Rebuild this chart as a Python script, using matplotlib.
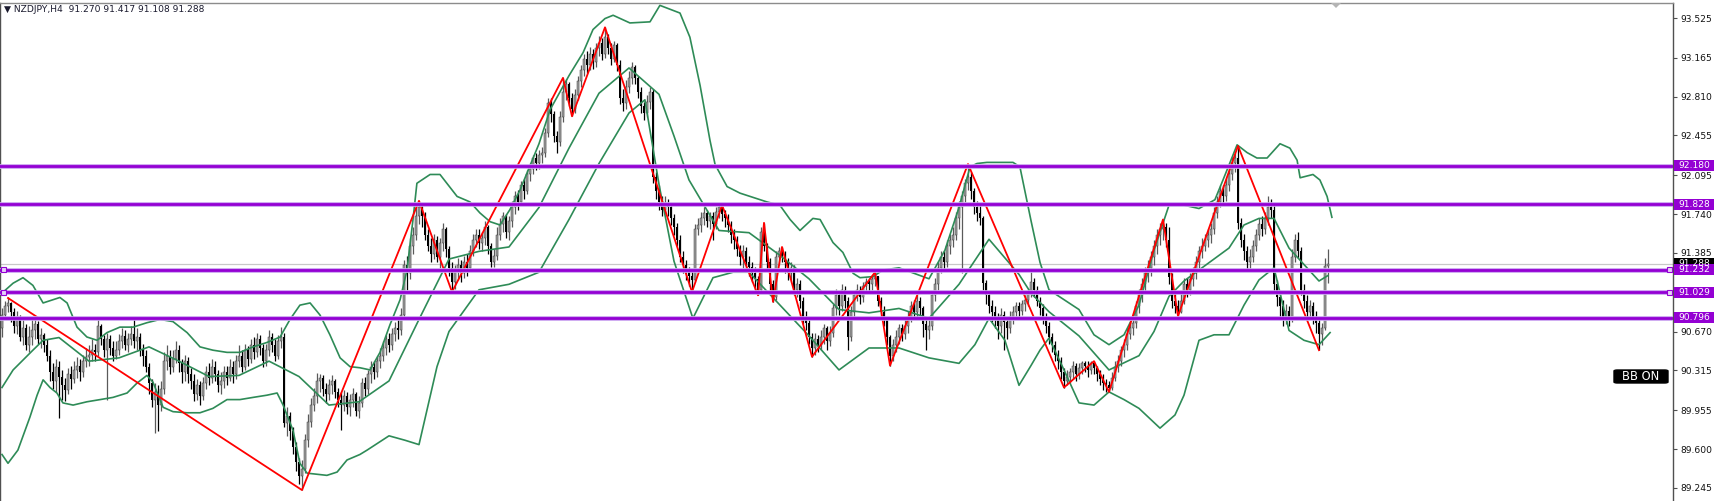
import numpy as np
import matplotlib
matplotlib.use("Agg")
import matplotlib.pyplot as plt
from matplotlib.patches import Rectangle, FancyBboxPatch, Polygon

W, H = 1717, 501

# ---- data (H4 candles, open = previous close) ----
first_open = 90.70
closes = [
    90.82, 90.90, 90.93, 90.85, 90.72, 90.80, 90.62, 90.70, 90.55, 90.62,
    90.68, 90.74, 90.60, 90.64, 90.55, 90.45, 90.30, 90.22, 90.35, 90.26,
    90.18, 90.14, 90.28, 90.24, 90.32, 90.36, 90.30, 90.40, 90.44, 90.46,
    90.50, 90.48, 90.72, 90.60, 90.50, 90.60, 90.52, 90.45, 90.50, 90.58,
    90.63, 90.55, 90.60, 90.65, 90.58, 90.62, 90.50, 90.45, 90.35, 90.20,
    90.05, 90.12, 90.00, 90.15, 90.40, 90.45, 90.35, 90.42, 90.50, 90.38,
    90.30, 90.40, 90.28, 90.22, 90.10, 90.18, 90.08, 90.20, 90.30, 90.25,
    90.35, 90.28, 90.18, 90.22, 90.30, 90.25, 90.35, 90.28, 90.40, 90.45,
    90.35, 90.50, 90.42, 90.55, 90.48, 90.60, 90.52, 90.40, 90.50, 90.62,
    90.55, 90.45, 90.58, 90.62, 89.84, 89.90, 89.76, 89.62, 89.48, 89.35,
    89.42, 89.68, 89.85, 90.00, 90.08, 90.22, 90.25, 90.15, 90.10, 90.18,
    90.22, 90.12, 90.05, 90.00, 90.08, 89.98, 90.05, 90.10, 89.95, 90.02,
    90.20, 90.15, 90.28, 90.35, 90.30, 90.40, 90.45, 90.52, 90.60, 90.55,
    90.65, 90.70, 90.68, 90.82, 91.28, 91.20, 91.45, 91.55, 91.72, 91.80,
    91.72, 91.55, 91.45, 91.38, 91.50, 91.35, 91.48, 91.60, 91.42, 91.25,
    91.12, 91.22, 91.28, 91.20, 91.30, 91.25, 91.40, 91.50, 91.55, 91.48,
    91.52, 91.62, 91.45, 91.30, 91.36, 91.55, 91.65, 91.72, 91.58, 91.68,
    91.80, 91.90, 91.85, 92.00, 91.95, 92.10, 92.15, 92.25, 92.20, 92.28,
    92.30, 92.48, 92.75, 92.65, 92.45, 92.40, 92.62, 92.85, 92.92, 92.80,
    92.70, 92.82, 92.95, 93.05, 93.15, 93.10, 93.20, 93.12, 93.25, 93.30,
    93.20, 93.35, 93.25, 93.15, 93.28, 93.10, 92.80, 92.75, 92.90, 92.98,
    93.08, 92.98, 92.85, 92.72, 92.66, 92.76, 92.85, 92.08, 91.95, 91.85,
    91.78, 91.84, 91.80, 91.70, 91.62, 91.50, 91.35, 91.28, 91.22, 91.18,
    91.14, 91.60, 91.64, 91.70, 91.75, 91.68, 91.72, 91.65, 91.76, 91.80,
    91.74, 91.70, 91.64, 91.55, 91.50, 91.42, 91.35, 91.40, 91.30, 91.26,
    91.20, 91.15, 91.05, 91.58, 91.45, 91.30, 91.10, 90.98, 91.35, 91.40,
    91.36, 91.30, 91.20, 91.25, 91.05, 91.10, 90.95, 90.80, 90.75, 90.62,
    90.52, 90.60, 90.55, 90.62, 90.70, 90.58, 90.66, 90.88, 91.00, 90.90,
    91.05, 90.95, 90.62, 90.85, 91.00, 91.05, 90.98, 91.08, 91.12, 91.10,
    91.15, 91.18, 90.95, 90.85, 90.78, 90.62, 90.45, 90.55, 90.62, 90.70,
    90.65, 90.72, 90.80, 90.90, 90.85, 90.95, 90.88, 90.74, 90.68, 90.72,
    91.00, 91.10, 91.25, 91.35, 91.30, 91.45, 91.50, 91.55, 91.70, 91.80,
    91.90, 92.02, 92.08, 91.95, 91.80, 91.75, 91.70, 91.11, 91.00, 90.90,
    90.85, 90.78, 90.72, 90.82, 90.76, 90.70, 90.80, 90.85, 90.90, 90.86,
    90.92, 90.96, 91.02, 91.12, 91.05, 90.95, 90.88, 90.80, 90.72, 90.62,
    90.55, 90.46, 90.40, 90.30, 90.22, 90.26, 90.30, 90.36, 90.28, 90.34,
    90.38, 90.36, 90.32, 90.38, 90.34, 90.28, 90.24, 90.20, 90.18, 90.16,
    90.25, 90.35, 90.40, 90.50, 90.55, 90.65, 90.70, 90.75, 90.90, 91.00,
    91.10, 91.20, 91.25, 91.35, 91.45, 91.55, 91.60, 91.62, 91.50, 91.17,
    90.95, 90.90, 90.85, 90.95, 91.10, 91.05, 91.15, 91.20, 91.30, 91.40,
    91.45, 91.50, 91.55, 91.60, 91.75, 91.85, 91.95, 91.90, 92.00, 92.10,
    92.20, 92.25, 91.66, 91.50, 91.40, 91.30, 91.35, 91.45, 91.55, 91.65,
    91.60, 91.70, 91.80, 91.78, 91.10, 90.98, 90.90, 90.80, 90.86, 90.78,
    91.35, 91.50, 91.40, 91.05, 90.95, 90.85, 90.90, 90.80, 90.75, 90.65,
    90.70, 91.27, 91.288,
]
highs = [
    90.88, 90.95, 90.98, 90.94, 90.88, 90.86, 90.82, 90.78, 90.74, 90.72,
    90.78, 90.80, 90.77, 90.70, 90.66, 90.60, 90.50, 90.38, 90.42, 90.40,
    90.32, 90.25, 90.34, 90.36, 90.40, 90.44, 90.42, 90.46, 90.52, 90.55,
    90.60, 90.56, 90.79, 90.74, 90.64, 90.66, 90.64, 90.58, 90.58, 90.65,
    90.70, 90.68, 90.66, 90.72, 90.80, 90.70, 90.66, 90.56, 90.50, 90.38,
    90.24, 90.20, 90.18, 90.22, 90.48, 90.55, 90.50, 90.50, 90.58, 90.55,
    90.42, 90.46, 90.44, 90.34, 90.28, 90.24, 90.22, 90.26, 90.36, 90.38,
    90.42, 90.40, 90.32, 90.30, 90.36, 90.36, 90.42, 90.40, 90.46, 90.55,
    90.50, 90.56, 90.54, 90.60, 90.62, 90.66, 90.64, 90.56, 90.56, 90.68,
    90.66, 90.60, 90.64, 90.71, 90.66, 89.98, 89.94, 89.80, 89.66, 89.52,
    89.50, 89.74, 89.92, 90.06, 90.16, 90.29, 90.28, 90.27, 90.20, 90.24,
    90.27, 90.24, 90.16, 90.12, 90.14, 90.12, 90.10, 90.16, 90.12, 90.08,
    90.25, 90.26, 90.32, 90.40, 90.40, 90.45, 90.52, 90.58, 90.64, 90.66,
    90.70, 90.76, 90.78, 90.88, 91.32, 91.36, 91.52, 91.62, 91.80, 91.86,
    91.84, 91.76, 91.60, 91.52, 91.56, 91.54, 91.52, 91.66, 91.62, 91.45,
    91.30, 91.28, 91.34, 91.32, 91.36, 91.38, 91.46, 91.56, 91.60, 91.60,
    91.58, 91.68, 91.64, 91.48, 91.42, 91.62, 91.70, 91.76, 91.74, 91.72,
    91.86, 91.95, 91.96, 92.04, 92.06, 92.14, 92.20, 92.28, 92.30, 92.32,
    92.35, 92.52, 92.80, 92.80, 92.68, 92.50, 92.68, 92.98, 92.97, 92.94,
    92.84, 92.88, 93.00, 93.10, 93.20, 93.22, 93.26, 93.24, 93.30, 93.36,
    93.34, 93.44, 93.38, 93.30, 93.32, 93.30, 93.14, 92.88, 92.96, 93.04,
    93.12, 93.10, 93.00, 92.90, 92.76, 92.82, 92.90, 92.88, 92.12, 92.00,
    91.90, 91.90, 91.88, 91.84, 91.74, 91.66, 91.55, 91.40, 91.32, 91.26,
    91.22, 91.65, 91.70, 91.76, 91.80, 91.78, 91.76, 91.76, 91.80, 91.82,
    91.82, 91.78, 91.74, 91.68, 91.60, 91.54, 91.46, 91.46, 91.44, 91.36,
    91.30, 91.26, 91.18, 91.62, 91.66, 91.48, 91.34, 91.14, 91.40, 91.44,
    91.44, 91.40, 91.34, 91.30, 91.28, 91.16, 91.14, 90.98, 90.86, 90.78,
    90.66, 90.66, 90.64, 90.68, 90.74, 90.72, 90.72, 90.92, 91.06, 91.04,
    91.10, 91.08, 90.98, 90.90, 91.04, 91.10, 91.08, 91.12, 91.16, 91.16,
    91.18, 91.21, 91.18, 90.98, 90.90, 90.80, 90.64, 90.60, 90.68, 90.74,
    90.74, 90.78, 90.86, 90.95, 90.96, 91.00, 90.98, 90.90, 90.78, 90.78,
    91.04, 91.16, 91.30, 91.40, 91.40, 91.50, 91.56, 91.62, 91.76, 91.86,
    91.95, 92.06, 92.195, 92.12, 91.98, 91.86, 91.82, 91.72, 91.14, 91.04,
    90.96, 90.90, 90.84, 90.88, 90.86, 90.80, 90.86, 90.90, 90.94, 90.94,
    90.96, 91.00, 91.06, 91.23, 91.16, 91.08, 90.98, 90.92, 90.84, 90.76,
    90.66, 90.58, 90.50, 90.44, 90.34, 90.32, 90.34, 90.40, 90.38, 90.38,
    90.40, 90.40, 90.40, 90.40, 90.40, 90.36, 90.32, 90.28, 90.24, 90.22,
    90.30, 90.40, 90.46, 90.54, 90.60, 90.70, 90.76, 90.82, 90.95, 91.06,
    91.16, 91.26, 91.32, 91.40, 91.50, 91.60, 91.66, 91.69, 91.66, 91.62,
    91.20, 91.02, 90.96, 91.02, 91.16, 91.16, 91.20, 91.26, 91.36, 91.45,
    91.52, 91.56, 91.60, 91.66, 91.80, 91.90, 92.00, 92.00, 92.06, 92.16,
    92.26, 92.30, 92.36, 91.70, 91.56, 91.45, 91.42, 91.50, 91.60, 91.70,
    91.72, 91.76, 91.90, 91.88, 91.82, 91.14, 91.04, 90.96, 90.92, 90.90,
    91.42, 91.56, 91.58, 91.44, 91.10, 91.00, 90.96, 90.94, 90.86, 90.80,
    90.75, 91.34, 91.417,
]
lows = [
    90.62, 90.78, 90.85, 90.76, 90.66, 90.65, 90.58, 90.55, 90.50, 90.48,
    90.55, 90.60, 90.56, 90.52, 90.48, 90.40, 90.22, 90.15, 90.12, 89.88,
    90.05, 90.04, 90.10, 90.15, 90.20, 90.25, 90.22, 90.26, 90.35, 90.36,
    90.40, 90.40, 90.45, 90.55, 90.44, 90.05, 90.46, 90.40, 90.42, 90.46,
    90.52, 90.50, 90.48, 90.55, 90.52, 90.50, 90.45, 90.36, 90.30, 90.10,
    89.98, 89.75, 89.76, 89.95, 90.10, 90.32, 90.28, 90.30, 90.38, 90.30,
    90.20, 90.22, 90.20, 90.15, 90.04, 90.05, 90.00, 90.05, 90.15, 90.18,
    90.20, 90.22, 90.12, 90.10, 90.16, 90.18, 90.22, 90.20, 90.24, 90.35,
    90.30, 90.32, 90.36, 90.38, 90.42, 90.44, 90.46, 90.35, 90.36, 90.45,
    90.48, 90.40, 90.42, 90.52, 89.80, 89.72, 89.68, 89.55, 89.40, 89.28,
    89.23, 89.38, 89.62, 89.80, 89.95, 90.02, 90.12, 90.08, 90.02, 90.05,
    90.10, 90.06, 89.98, 89.77, 89.95, 89.92, 89.90, 89.98, 89.90, 89.88,
    89.98, 90.08, 90.10, 90.20, 90.24, 90.26, 90.34, 90.40, 90.46, 90.48,
    90.50, 90.58, 90.60, 90.64, 90.80, 91.05, 91.15, 91.38, 91.50, 91.65,
    91.62, 91.50, 91.40, 91.30, 91.33, 91.30, 91.25, 91.40, 91.35, 91.18,
    91.03, 91.06, 91.14, 91.12, 91.16, 91.18, 91.22, 91.36, 91.44, 91.42,
    91.40, 91.46, 91.38, 91.26, 91.26, 91.32, 91.50, 91.58, 91.52, 91.50,
    91.62, 91.74, 91.78, 91.82, 91.88, 91.92, 92.04, 92.10, 92.14, 92.15,
    92.20, 92.26, 92.44, 92.58, 92.40, 92.30, 92.36, 92.58, 92.78, 92.72,
    92.63, 92.66, 92.78, 92.90, 93.00, 93.02, 93.05, 93.06, 93.08, 93.18,
    93.14, 93.16, 93.20, 93.10, 93.12, 93.04, 92.74, 92.68, 92.70, 92.84,
    92.92, 92.92, 92.80, 92.66, 92.60, 92.62, 92.70, 92.02, 91.88, 91.78,
    91.72, 91.74, 91.72, 91.64, 91.55, 91.45, 91.30, 91.20, 91.14, 91.08,
    91.03, 91.12, 91.55, 91.58, 91.64, 91.62, 91.60, 91.50, 91.60, 91.70,
    91.68, 91.62, 91.58, 91.48, 91.42, 91.36, 91.28, 91.25, 91.24, 91.18,
    91.12, 91.05, 91.00, 91.02, 91.40, 91.24, 91.05, 90.94, 90.96, 91.28,
    91.30, 91.20, 91.14, 91.12, 91.00, 90.98, 90.88, 90.74, 90.68, 90.56,
    90.44, 90.46, 90.48, 90.50, 90.56, 90.50, 90.54, 90.62, 90.82, 90.82,
    90.86, 90.88, 90.50, 90.58, 90.80, 90.95, 90.92, 90.94, 91.02, 91.02,
    91.05, 91.08, 90.90, 90.78, 90.72, 90.55, 90.36, 90.40, 90.48, 90.56,
    90.58, 90.60, 90.66, 90.76, 90.78, 90.80, 90.82, 90.62, 90.50, 90.60,
    90.68, 90.95, 91.05, 91.20, 91.22, 91.26, 91.38, 91.44, 91.50, 91.60,
    91.20, 91.85, 91.96, 91.88, 91.74, 91.68, 91.64, 91.05, 90.92, 90.84,
    90.76, 90.70, 90.60, 90.66, 90.50, 90.60, 90.66, 90.74, 90.78, 90.80,
    90.82, 90.86, 90.90, 90.98, 90.98, 90.90, 90.82, 90.74, 90.66, 90.56,
    90.48, 90.40, 90.33, 90.24, 90.16, 90.18, 90.20, 90.24, 90.22, 90.24,
    90.28, 90.30, 90.26, 90.28, 90.28, 90.22, 90.18, 90.14, 90.12, 90.12,
    90.14, 90.22, 90.30, 90.36, 90.44, 90.50, 90.60, 90.64, 90.70, 90.84,
    90.94, 91.04, 91.12, 91.18, 91.28, 91.38, 91.46, 91.50, 91.44, 91.10,
    90.88, 90.84, 90.81, 90.84, 90.92, 90.98, 91.00, 91.08, 91.15, 91.25,
    91.34, 91.40, 91.44, 91.48, 91.56, 91.70, 91.80, 91.82, 91.86, 91.95,
    92.05, 92.12, 91.60, 91.44, 91.32, 91.22, 91.24, 91.30, 91.40, 91.50,
    91.54, 91.56, 91.64, 91.70, 91.02, 90.90, 90.80, 90.72, 90.74, 90.72,
    90.76, 91.30, 91.34, 91.00, 90.88, 90.80, 90.78, 90.74, 90.66, 90.50,
    90.55, 90.68, 91.108,
]

# zigzag pivots (bar index, price)
zz_idx = [2, 100, 139, 150, 187, 190, 201, 230, 240, 252, 254, 257, 260, 270,
          291, 296, 322, 354, 364, 369, 387, 392, 412, 439]
zz_px = [90.975, 89.226, 91.86, 91.03, 92.98, 92.63, 93.44, 91.03, 91.82, 91.00,
         91.66, 90.94, 91.44, 90.44, 91.21, 90.36, 92.195, 90.16, 90.40, 90.12,
         91.69, 90.81, 92.36, 90.50]

# bollinger band lines as traced (bar index, price)
bbu_idx = [0, 3.7, 7, 10.3, 13.7, 19.3, 21.7, 25, 28.3, 31.7, 35, 39.3, 43.7, 48.3,
           52.7, 57, 61.7, 66, 70.3, 75, 79.3, 83.7, 88.3, 92.7, 96, 99.3, 102.7,
           106, 109.3, 112.7, 116, 119.3, 122.7, 126, 129.3, 132.7, 135, 137, 138.3,
           142.7, 146, 151.7, 156, 159.3, 162.7, 166, 169.3, 172.7, 179, 182.7, 189,
           193.7, 197, 201, 203.7, 209.3, 216, 219.3, 226, 229.3, 232.7, 236, 237.7,
           241.7, 246, 255, 259.3, 262.7, 266, 270.3, 272.7, 277, 280.3, 283.7, 286,
           290.3, 293.7, 299, 309, 314.3, 319, 322.7, 325, 328.3, 332.7, 337, 339.3,
           343, 346, 349, 354, 359, 364, 369, 374, 379, 384, 389, 394, 399, 404.3,
           407, 411.7, 415, 418.3, 421.7, 426, 429.3, 431.7, 432.7, 437, 439.3,
           441.7, 443.3]
bbu = [91.02, 91.11, 91.16, 91.09, 90.93, 90.98, 90.93, 90.71, 90.62, 90.59, 90.66,
       90.71, 90.71, 90.75, 90.78, 90.76, 90.66, 90.53, 90.50, 90.48, 90.48, 90.53,
       90.57, 90.62, 90.78, 90.91, 90.93, 90.82, 90.64, 90.43, 90.35, 90.34, 90.32,
       90.48, 90.73, 90.96, 91.23, 91.69, 92.02, 92.10, 92.10, 91.90, 91.85, 91.75,
       91.67, 91.64, 91.78, 91.96, 92.38, 92.69, 93.00, 93.21, 93.42, 93.52, 93.55,
       93.48, 93.49, 93.64, 93.57, 93.35, 92.91, 92.41, 92.19, 91.99, 91.93, 91.85,
       91.82, 91.69, 91.59, 91.70, 91.69, 91.48, 91.39, 91.20, 91.16, 91.17, 91.23,
       91.25, 91.15, 91.41, 91.80, 92.17, 92.20, 92.21, 92.21, 92.21, 92.17, 91.68,
       91.30, 91.05, 90.96, 90.87, 90.64, 90.55, 90.64, 90.91, 91.41, 91.82, 91.82,
       91.79, 91.87, 92.05, 92.37, 92.30, 92.25, 92.25, 92.38, 92.34, 92.23, 92.07,
       92.10, 92.05, 91.90, 91.71]
bbm_idx = [0, 3.7, 10.3, 13.7, 19, 29, 39, 49, 59, 69, 79, 89, 99, 109, 119, 129,
           139, 149, 159, 169, 179, 189, 199, 209, 219, 224, 229, 239, 249, 259, 269,
           279, 289, 299, 309, 319, 329, 339, 343, 349, 359, 369, 379, 384, 389, 394,
           399, 409, 414, 419, 424, 429, 439, 442]
bbm = [90.16, 90.32, 90.50, 90.59, 90.615, 90.40, 90.43, 90.53, 90.40, 90.26, 90.27,
       90.40, 90.26, 90.00, 90.03, 90.22, 90.78, 91.33, 91.40, 91.44, 91.80, 92.34,
       92.84, 93.07, 92.83, 92.45, 92.05, 91.59, 91.57, 91.37, 91.15, 90.87, 90.84,
       90.88, 90.79, 91.10, 91.51, 91.19, 91.02, 90.85, 90.63, 90.32, 90.45, 90.67,
       90.99, 91.13, 91.23, 91.43, 91.64, 91.70, 91.70, 91.43, 91.13, 91.18]
bbl_idx = [0, 2, 5.3, 9.3, 11.7, 13.7, 16, 18.3, 20.3, 23.7, 28.3, 32.7, 37, 41.7,
           45, 48.3, 50.3, 53.7, 57, 61.7, 66, 70.3, 75, 79.3, 83.7, 88.3, 91.7, 93.7,
           97, 99.3, 101.7, 108.3, 111.7, 115, 119.3, 121.7, 129, 134.3, 139, 145,
           149, 159, 169, 179, 189, 199, 209, 214.3, 219, 224, 230.3, 237, 243.7, 249,
           259, 269, 279, 289, 299, 309, 319, 324.3, 329, 334.3, 339, 343, 346, 349,
           354, 359, 364, 369, 374, 379, 386, 391, 394, 399, 404, 409, 414, 419, 424,
           429, 434, 439, 442.7]
bbl = [89.55, 89.47, 89.59, 89.89, 90.09, 90.23, 90.16, 90.11, 90.02, 90.00, 90.03,
       90.05, 90.07, 90.11, 90.20, 90.27, 90.21, 89.98, 89.94, 89.93, 89.93, 89.97,
       90.05, 90.05, 90.07, 90.09, 90.11, 90.00, 89.77, 89.47, 89.38, 89.36, 89.39,
       89.50, 89.55, 89.59, 89.72, 89.68, 89.64, 90.35, 90.67, 91.05, 91.10, 91.21,
       91.69, 92.20, 92.66, 92.78, 92.01, 91.31, 90.79, 91.16, 91.21, 91.21, 90.92,
       90.63, 90.32, 90.52, 90.52, 90.43, 90.38, 90.55, 90.79, 90.59, 90.18, 90.36,
       90.50, 90.61, 90.32, 90.02, 90.00, 90.12, 90.05, 89.97, 89.79, 89.91, 90.09,
       90.59, 90.64, 90.64, 90.91, 91.14, 91.25, 90.68, 90.59, 90.55, 90.66]

levels = [92.180, 91.828, 91.232, 91.029, 90.796]
level_labels = ["92.180", "91.828", "91.232", "91.029", "90.796"]
bid = 91.288
ticks = [93.525, 93.165, 92.810, 92.455, 92.095, 91.740, 91.385, 90.670, 90.315,
         89.955, 89.600, 89.245]
tick_labels = ["93.525", "93.165", "92.810", "92.455", "92.095", "91.740", "91.385",
               "90.670", "90.315", "89.955", "89.600", "89.245"]
title = "▼ NZDJPY,H4  91.270 91.417 91.108 91.288"

# ---- pixel <-> price frame ----
y0_px, y_top_px = 18.0, 3.0
px_per_unit = 109.81
p_top = 93.525 + (y0_px - y_top_px) / px_per_unit
p_bot = 93.525 - (H - y0_px) / px_per_unit
ax_right = 1673


def fy(price):
    # figure fraction for a price
    return 1 - (y0_px + (93.525 - price) * px_per_unit) / H


fig = plt.figure(figsize=(W / 100, H / 100), dpi=100)
fig.patch.set_facecolor("white")
ax = fig.add_axes([0, 0, ax_right / W, (H - y_top_px) / H])
ax.set_xlim(-2 / 3, (ax_right - 2) / 3)
ax.set_ylim(p_bot, p_top)

n = len(closes)
x = np.arange(n)
c = np.array(closes)
o = np.array([first_open] + closes[:-1])
hi = np.array(highs)
lo = np.array(lows)
up = c >= o
top = np.maximum(np.maximum(o, c), hi)
bot = np.minimum(np.minimum(o, c), lo)

ax.vlines(x[up], bot[up], top[up], color="#5a5a5a", lw=0.9, zorder=2)
ax.vlines(x[~up], bot[~up], top[~up], color="black", lw=0.9, zorder=2)
body_lo = np.minimum(o, c)
body_h = np.maximum(np.abs(c - o), 0.012)
ax.bar(x[up], body_h[up], bottom=body_lo[up], width=0.72, color="#a0a0a0",
       edgecolor="#3c3c3c", linewidth=0.35, zorder=3)
ax.bar(x[~up], body_h[~up], bottom=body_lo[~up], width=0.72, color="black",
       linewidth=0, zorder=3)

# bollinger bands
bb_col = "#2e8b57"
ax.plot(bbu_idx, bbu, color=bb_col, lw=1.2, zorder=4)
ax.plot(bbm_idx, bbm, color=bb_col, lw=1.2, zorder=4)
ax.plot(bbl_idx, bbl, color=bb_col, lw=1.2, zorder=4)

# zigzag
ax.plot(zz_idx, zz_px, color="red", lw=1.3, zorder=5)

# bid line and horizontal levels
ax.axhline(bid, color="#c8c8c8", lw=0.9, zorder=1)
purple = "#9400d3"
for lv in levels:
    ax.axhline(lv, color="#c9a0ef", lw=3.4, zorder=6)
    ax.axhline(lv, color=purple, lw=2.0, zorder=6)

# frame
ax.spines["bottom"].set_visible(False)
ax.spines["top"].set_color("#8c8c8c")
ax.spines["left"].set_color("#505050")
ax.spines["right"].set_color("#505050")
for s in ["top", "left", "right"]:
    ax.spines[s].set_linewidth(1.0)
ax.set_xticks([])
ax.yaxis.tick_right()
ax.set_yticks(ticks)
ax.set_yticklabels(tick_labels)
ax.tick_params(axis="y", direction="out", length=3, width=0.8, color="#505050",
               pad=2, labelsize=6.6, labelcolor="#111111")

# selection squares on two of the levels
for lv in [91.232, 91.029]:
    for px in [3, 1669]:
        fig.patches.append(Rectangle(((px - 2.5) / W, fy(lv) - 2.5 / H), 5 / W, 5 / H,
                                     transform=fig.transFigure, facecolor="#e6d0f7",
                                     edgecolor=purple, lw=0.8, zorder=8))


def price_box(price, label, col):
    yc = fy(price)
    fig.patches.append(Rectangle((1674 / W, yc - 5.5 / H), 40 / W, 11 / H,
                                 transform=fig.transFigure, facecolor=col,
                                 edgecolor="none", zorder=9))
    fig.text(1694 / W, yc, label, color="white", fontsize=6.6, ha="center",
             va="center", zorder=10)


price_box(bid, "91.288", "black")
for lv, lab in zip(levels, level_labels):
    price_box(lv, lab, purple)

# BB ON badge
fig.patches.append(FancyBboxPatch((1614 / W, 1 - 383 / H), 54 / W, 13 / H,
                                  boxstyle="round,pad=0,rounding_size=0.002",
                                  transform=fig.transFigure, facecolor="black",
                                  edgecolor="black", zorder=9))
fig.text(1641 / W, 1 - 376.5 / H, "BB ON", color="white", fontsize=8.3,
         ha="center", va="center", zorder=10)

# chart shift marker
fig.patches.append(Polygon([[1331 / W, 1 - 3 / H], [1341 / W, 1 - 3 / H],
                            [1336 / W, 1 - 8 / H]], closed=True,
                           transform=fig.transFigure, facecolor="#b4b4b4",
                           edgecolor="none", zorder=9))

fig.text(4 / W, 1 - 10 / H, title, fontsize=6.6, color="#1a1a2e", ha="left",
         va="center")

fig.savefig("out.png", dpi=100)
